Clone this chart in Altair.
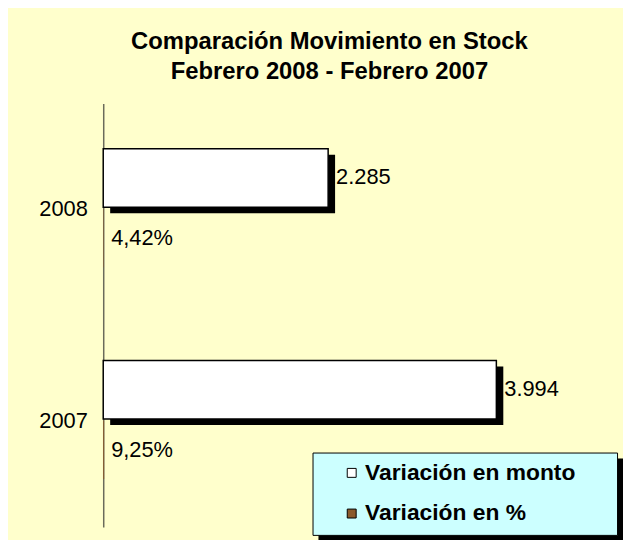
import altair as alt
import pandas as pd

# ---- data ----
years = ["2008", "2007"]
series = ["Variación en monto", "Variación en %"]
monto = [2285, 3994]
pct = [4.42, 9.25]
monto_labels = ["2.285", "3.994"]
pct_labels = ["4,42%", "9,25%"]

rows = []
for i, y in enumerate(years):
    rows.append({"year": y, "serie": series[0], "value": monto[i], "label": monto_labels[i]})
    rows.append({"year": y, "serie": series[1], "value": pct[i], "label": pct_labels[i]})
df = pd.DataFrame(rows)

FONT = "Liberation Sans"
NB = "\u00a0"
ZW = "\u200b"

x_scale = alt.Scale(domain=[0, 5200], nice=False, zero=True)
y_enc = alt.Y(
    "year:N",
    sort=years,
    scale=alt.Scale(paddingInner=0, paddingOuter=0),
    axis=alt.Axis(
        title=None, ticks=False, labelFontSize=22, labelFont=FONT, labelColor="black",
        labelPadding=16, domainColor="#6b6b5a", domainWidth=1.5, grid=False,
    ),
)
x_enc = alt.X("value:Q", scale=x_scale, axis=None)

base = alt.Chart(df)
is_m = alt.datum.serie == series[0]
is_p = alt.datum.serie == series[1]

legend_expr = (
    "datum.label == 'Variación en monto' ? '" + NB * 2 + "Variación en monto" + NB * 5 + ZW + "' : datum.label"
)
legend_common = dict(
    title=None, orient="none", padding=9,
    symbolType="square", symbolSize=81, symbolStrokeWidth=1,
    symbolOffset=19, labelOffset=2, rowPadding=17,
    labelFontSize=23, labelFontWeight="bold", labelFont=FONT,
    labelLimit=500, labelExpr=legend_expr,
)

color_enc = alt.Color(
    "serie:N",
    sort=series,
    scale=alt.Scale(domain=series, range=["#FFFFFF", "#8B5A2B"]),
    legend=alt.Legend(
        legendX=211, legendY=352, fillColor="#CCFFFF", strokeColor="black",
        symbolStrokeColor="black", labelColor="black", zindex=2, **legend_common
    ),
)

# legend drop shadow (a second, black legend placed behind the first)
opacity_enc = alt.Opacity(
    "serie:N",
    sort=series,
    scale=alt.Scale(range=[1, 1]),
    legend=alt.Legend(
        legendX=217, legendY=358, fillColor="black", strokeColor="black",
        symbolFillColor="black", symbolStrokeColor="black", labelColor="black",
        labelOpacity=0, zindex=1, **legend_common
    ),
)

shadow = base.transform_filter(is_m).mark_bar(
    color="black", height=59, yOffset=-25.5, xOffset=7, x2Offset=4
).encode(x=x_enc, y=y_enc)

bars_m = base.transform_filter(is_m).mark_bar(
    stroke="black", strokeWidth=1.5, height=59, yOffset=-31.5
).encode(x=x_enc, y=y_enc, color=color_enc)

bars_p = base.transform_filter(is_p).mark_bar(height=59, yOffset=29).encode(
    x=x_enc, y=y_enc, color=color_enc
)

carrier = base.mark_text(text="").encode(
    x=alt.X(datum=0, scale=x_scale, axis=None), y=y_enc, opacity=opacity_enc
)

txt_m = base.transform_filter(is_m).mark_text(
    align="left", baseline="middle", dx=8, dy=-32, fontSize=22, font=FONT, color="black"
).encode(x=x_enc, y=y_enc, text="label:N")

txt_p = base.transform_filter(is_p).mark_text(
    align="left", baseline="middle", dx=8, dy=29, fontSize=22, font=FONT, color="black"
).encode(x=alt.X(datum=0, scale=x_scale, axis=None), y=y_enc, text="label:N")

chart = alt.layer(shadow, bars_m, bars_p, carrier, txt_m, txt_p).properties(
    width=516,
    height=427,
    background="#FFFFCC",
    padding={"left": 96, "top": 94, "right": 8, "bottom": 11},
    autosize=alt.AutoSizeParams(type="none"),
    title=alt.TitleParams(
        text=["Comparación Movimiento en Stock", "Febrero 2008 - Febrero 2007"],
        fontSize=24, fontWeight="bold", font=FONT, color="black",
        anchor="middle", dx=-30, lineHeight=30, offset=20,
    ),
).configure_view(stroke=None)

chart.save("out.html", embed_options={"renderer": "svg", "actions": False})
